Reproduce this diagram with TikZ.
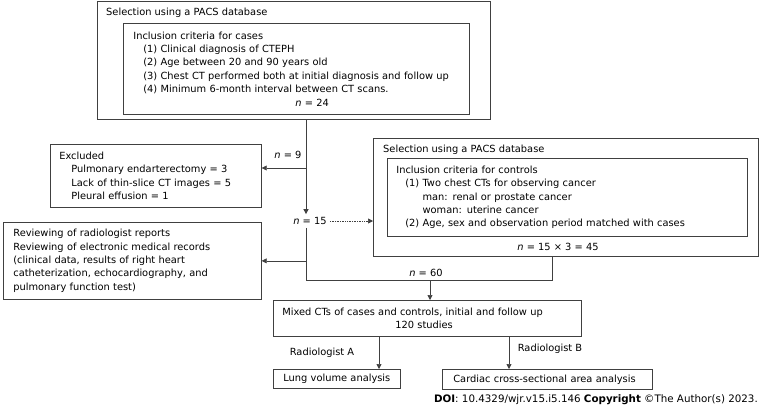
\documentclass[tikz,border=0pt]{standalone}
\usepackage{fontspec}
\setmainfont{DejaVu Sans}
\usetikzlibrary{arrows.meta}

\newcommand\fs{\fontsize{9.85}{13.4}\selectfont}
\tikzset{
  box/.style={draw=black!75,line width=0.7pt,rectangle,anchor=north west,align=left,inner xsep=9pt,inner ysep=0pt,font=\fs},
  lbl/.style={inner sep=0pt,font=\fs},
  line/.style={draw=black!75,line width=0.7pt},
}

\begin{document}
\begin{tikzpicture}[x=1pt,y=-1pt,>={Triangle[length=5pt,width=5pt]}]
\useasboundingbox (0,0) rectangle (763,408);

% cases
\node[box,minimum width=393pt,minimum height=118pt] (cases) at (97,1) {};
\node[lbl,anchor=west] (casetitle) at (106,13) {Selection using a PACS database};
\node[box,inner xsep=10pt,text width=326pt,minimum height=91pt] (casecrit) at (123,23)
  {Inclusion criteria for cases\\
   \hspace*{10pt}(1) Clinical diagnosis of CTEPH\\
   \hspace*{10pt}(2) Age between 20 and 90 years old\\
   \hspace*{10pt}(3) Chest CT performed both at initial diagnosis and follow up\\
   \hspace*{10pt}(4) Minimum 6-month interval between CT scans.\\
   \hspace*{162pt}\textit{n} = 24};

% excluded and review
\node[box,text width=193pt,minimum height=63pt] (excl) at (50,144)
  {Excluded\\
   \hspace*{12pt}Pulmonary endarterectomy = 3\\
   \hspace*{12pt}Lack of thin-slice CT images = 5\\
   \hspace*{12pt}Pleural effusion = 1};
\node[box,inner xsep=10pt,text width=238pt,minimum height=77pt] (review) at (3,222)
  {Reviewing of radiologist reports\\
   Reviewing of electronic medical records\\
   (clinical data, results of right heart\\
   catheterization, echocardiography, and\\
   pulmonary function test)};

% controls
\node[box,minimum width=385pt,minimum height=118pt] (ctrl) at (373,138) {};
\node[lbl,anchor=west] (ctrltitle) at (383,150) {Selection using a PACS database};
\node[box,text width=342pt,minimum height=78pt] (ctrlcrit) at (387,158)
  {Inclusion criteria for controls\\
   \hspace*{9pt}(1) Two chest CTs for observing cancer\\
   \hspace*{9pt}\phantom{(1) }man: renal or prostate cancer\\
   \hspace*{9pt}\phantom{(1) }woman: uterine cancer\\
   \hspace*{9pt}(2) Age, sex and observation period matched with cases};
\node[lbl] (n45) at (558,247) {\textit{n} = 15 × 3 = 45};

% mixed and analyses
\node[box,text width=290pt,minimum height=36pt] (mixed) at (273,300)
  {Mixed CTs of cases and controls, initial and follow up\\
   \hspace*{113pt}120 studies};
\node[box,inner xsep=10pt,text width=107pt,minimum height=19pt] (lung) at (273,369)
  {Lung volume analysis};
\node[box,inner xsep=11pt,text width=188pt,minimum height=20pt] (card) at (442,369)
  {Cardiac cross-sectional area analysis};

% labels
\node[lbl] (n9) at (288,155) {\textit{n} = 9};
\node[lbl,inner sep=3pt] (n15) at (310,221) {\textit{n} = 15};
\node[lbl] (n60) at (426,273) {\textit{n} = 60};
\node[lbl] (rada) at (322,353) {Radiologist A};
\node[lbl] (radb) at (550,349) {Radiologist B};
\node[lbl,anchor=east,font=\fontsize{10.3}{12}\selectfont] (doi) at (758,400)
  {\textbf{DOI}: 10.4329/wjr.v15.i5.146 \textbf{Copyright} ©The Author(s) 2023.};

% junctions
\coordinate (trunk) at (306,0);
\coordinate (exy) at (0,168);
\coordinate (j60) at (430,280);
\coordinate (ctrlx) at (552,0);
\coordinate (ra) at (379,0);
\coordinate (rb) at (509,0);

% connectors
\draw[line,->] (cases.south -| trunk) -- (n15.north -| trunk);
\draw[line,->] (trunk |- exy) -- (excl.east |- exy);
\draw[line,->,densely dotted] (n15.east) -- (n15.east -| ctrl.west);
\draw[line,->] (trunk |- review.east) -- (review.east);
\draw[line] (n15.south -| trunk) -- (trunk |- j60) -- (j60 -| ctrlx) -- (ctrl.south -| ctrlx);
\draw[line,->] (j60) -- (mixed.north -| j60);
\draw[line,->] (mixed.south -| ra) -- (lung.north -| ra);
\draw[line,->] (mixed.south -| rb) -- (card.north -| rb);

\end{tikzpicture}
\end{document}
